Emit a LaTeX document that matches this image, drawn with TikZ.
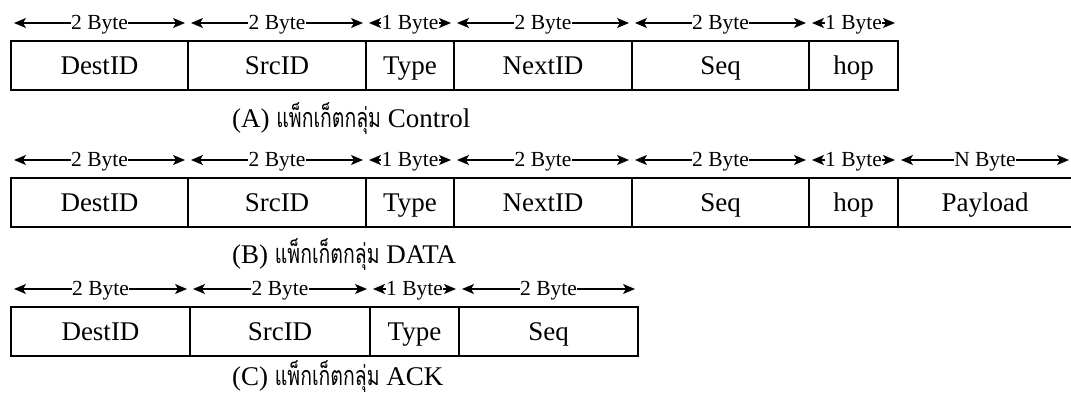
\documentclass[tikz,border=0pt]{standalone}
\usepackage{fontspec}
\setmainfont{Liberation Serif}
\newfontfamily\thaifont[Script=Thai]{Loma}
\usetikzlibrary{arrows.meta}

\tikzset{
  field/.style={draw, line width=1.6pt, minimum height=49pt, inner sep=0pt,
    outer sep=0pt, anchor=north west, text height=18pt, text depth=0pt,
    font=\fontsize{27}{27}\selectfont},
  span/.style={{Stealth[length=12pt,width=10pt,inset=3pt]}-{Stealth[length=12pt,width=10pt,inset=3pt]},
    line width=1.3pt},
  sizelbl/.style={fill=white, inner sep=0.6pt, yshift=-2pt,
    font=\fontsize{21.5}{21.5}\selectfont},
  pktcaption/.style={anchor=base west, inner sep=0pt,
    font=\fontsize{27}{27}\selectfont}
}

% Thai words of the captions, set narrower than Loma's natural width
\newcommand\thaiword[1]{\scalebox{0.72}[1]{\thaifont #1}}

% one header field: name, left x, right x, top y, field name, size label
\newcommand\pktfield[6]{%
  \pgfmathsetmacro\fieldw{#3-#2}%
  \node[field, minimum width=\fieldw pt] (#1) at (#2,#4) {#5};
  \coordinate (#1-l) at ([shift={(3pt,18pt)}]#1.north west);
  \coordinate (#1-r) at ([shift={(-3pt,18pt)}]#1.north east);
  \draw[span] (#1-l) -- (#1-r) node[sizelbl, midway] {#6};
}

\begin{document}
\begin{tikzpicture}[x=1pt, y=-1pt]
  \useasboundingbox (0,0) rectangle (1071,396);
  \clip (0,0) rectangle (1071,396);

  % (A) control packet
  \pktfield{a1}{11}{188}{41}{DestID}{2 Byte}
  \pktfield{a2}{188}{366}{41}{SrcID}{2 Byte}
  \pktfield{a3}{366}{454}{41}{Type}{1 Byte}
  \pktfield{a4}{454}{632}{41}{NextID}{2 Byte}
  \pktfield{a5}{632}{809}{41}{Seq}{2 Byte}
  \pktfield{a6}{809}{898}{41}{hop}{1 Byte}
  \node[pktcaption] (capA) at (232,127) {(A) \thaiword{แพ็กเก็ตกลุ่ม} Control};

  % (B) data packet
  \pktfield{b1}{11}{188}{178}{DestID}{2 Byte}
  \pktfield{b2}{188}{366}{178}{SrcID}{2 Byte}
  \pktfield{b3}{366}{454}{178}{Type}{1 Byte}
  \pktfield{b4}{454}{632}{178}{NextID}{2 Byte}
  \pktfield{b5}{632}{809}{178}{Seq}{2 Byte}
  \pktfield{b6}{809}{898}{178}{hop}{1 Byte}
  \pktfield{b7}{898}{1072}{178}{Payload}{N Byte}
  \node[pktcaption] (capB) at (232,263) {(B) \thaiword{แพ็กเก็ตกลุ่ม} DATA};

  % (C) acknowledgement packet
  \pktfield{c1}{11}{190}{307}{DestID}{2 Byte}
  \pktfield{c2}{190}{370}{307}{SrcID}{2 Byte}
  \pktfield{c3}{370}{459}{307}{Type}{1 Byte}
  \pktfield{c4}{459}{638}{307}{Seq}{2 Byte}
  \node[pktcaption] (capC) at (232,385) {(C) \thaiword{แพ็กเก็ตกลุ่ม} ACK};
\end{tikzpicture}
\end{document}
